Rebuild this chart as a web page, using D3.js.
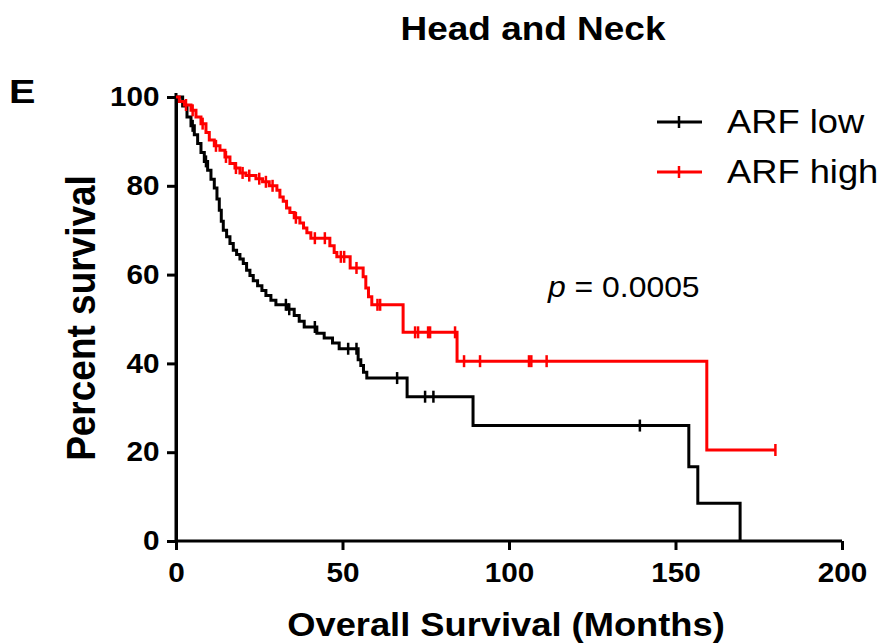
<!DOCTYPE html>
<html>
<head>
<meta charset="utf-8">
<script src="https://cdn.jsdelivr.net/npm/d3@7"></script>
<style>
  body { margin: 0; background: #fff; }
  text { font-family: "Liberation Sans", Arial, sans-serif; }
</style>
</head>
<body>
<svg id="km" width="883" height="644"></svg>
<script>
// Kaplan-Meier steps: time (months) and survival (%) after each drop
const lowTimes = [0, 2, 3.3, 4.5, 5.5, 6.5, 7.5, 8.5, 9.5, 10.5, 11.5, 12.3, 13, 13.6, 14.2, 15.2, 16.2, 17.2, 18.2, 19.2,
  20.2, 21.2, 22.2, 23.2, 24.5, 25.8, 27, 28.5, 30, 33.5, 35.5, 37, 38.5, 42.3, 44.5, 47, 49, 54.7, 55.5, 56.3,
  57.3, 69.4, 89.2, 154, 156.7, 169.4];
const lowSurv = [100, 98, 95.5, 93.5, 91.5, 89.5, 87.5, 85.5, 83.5, 81.5, 79.5, 77, 74.5, 72, 70, 68.5, 67, 65.5, 64.5, 63.5,
  62.5, 61, 59.8, 58.6, 57.5, 56.4, 55.3, 54.2, 53.2, 52.2, 50.8, 49.5, 48.2, 46.8, 45.7, 44.6, 43.3, 40.8, 39.5, 38,
  36.7, 32.5, 26, 16.7, 8.5, 0];
const lowCensor = [5, 9, 33, 34, 41.7, 51.7, 54.2, 66.4, 74.8, 77.3, 139.3];

const highTimes = [0, 1, 2.5, 4.5, 6, 7.5, 9, 10, 11.5, 13.2, 14.7, 16.2, 17.7, 19.2, 21, 24, 26, 28, 30.3, 31.2,
  32.2, 33.2, 34.2, 35.5, 37.2, 38.3, 39.3, 40.5, 46.2, 47.5, 48.3, 52.3, 56.2, 57, 57.8, 58.8, 68.2, 84.4, 159.4];
const highSurv = [100, 99, 98.2, 97, 95.5, 94, 92, 90.3, 89, 88, 86.5, 85, 84, 82.9, 82.3, 81.6, 80.9, 80, 79, 77.5,
  76.5, 75, 74, 72.8, 71.6, 70.5, 69.4, 68.2, 66.5, 65, 64, 61.5, 59.5, 57, 55, 53.2, 47, 40.5, 20.5];
const highCensor = [3, 5, 8, 12, 15, 18, 20, 22, 25, 27, 29, 36, 41.7, 44.7, 49.5, 50.5, 54.2, 60.5, 61.3,
  71.8, 72.7, 75.7, 76.3, 83.8, 86.5, 91.3, 106, 106.7, 111.3, 180];

const xTicks = [0, 50, 100, 150, 200];
const yTicks = [0, 20, 40, 60, 80, 100];
const groupNames = ["ARF low", "ARF high"];
const groupColors = ["#000000", "#ff0000"];

const svg = d3.select("#km");
const x = d3.scaleLinear().domain([0, 200]).range([176, 842]);
const y = d3.scaleLinear().domain([0, 100]).range([541, 97]);

// the source image is slightly stretched sideways, so text is widened a bit
const SX = 1.1;

// axes
const xAxis = svg.append("g")
  .attr("transform", `translate(0,${y(0)})`)
  .call(d3.axisBottom(x).tickValues(xTicks).tickSize(9).tickPadding(13).tickSizeOuter(0));
const yAxis = svg.append("g")
  .attr("transform", `translate(${x(0)},0)`)
  .call(d3.axisLeft(y).tickValues(yTicks).tickSize(9).tickPadding(6).tickSizeOuter(0));

[xAxis, yAxis].forEach(ax => {
  ax.select(".domain").attr("stroke", "#000").attr("stroke-width", 3);
  ax.selectAll(".tick line").attr("stroke", "#000").attr("stroke-width", 3);
  ax.selectAll(".tick text")
    .attr("fill", "#000")
    .attr("transform", `scale(${SX},1)`)
    .style("font-family", "'Liberation Sans', Arial, sans-serif")
    .style("font-weight", "bold")
    .style("font-size", "27px");
});
xAxis.select(".domain").attr("d", `M${x(0)},0H${x(200)}`);
svg.append("line")
  .attr("x1", x(0)).attr("x2", x(0))
  .attr("y1", y(100) - 4).attr("y2", y(0))
  .attr("stroke", "#000").attr("stroke-width", 3);

// curves
const line = d3.line()
  .x(d => x(d[0]))
  .y(d => y(d[1]))
  .curve(d3.curveStepAfter);

function survAt(times, surv, t) {
  let s = surv[0];
  for (let i = 0; i < times.length; i++) if (times[i] <= t) s = surv[i];
  return s;
}

const groups = [
  { times: lowTimes, surv: lowSurv, censor: lowCensor, end: 169.4 },
  { times: highTimes, surv: highSurv, censor: highCensor, end: 180 }
];

groups.forEach((g, gi) => {
  const pts = g.times.map((t, i) => [t, g.surv[i]]);
  const last = g.times[g.times.length - 1];
  if (g.end > last) pts.push([g.end, g.surv[g.surv.length - 1]]);
  svg.append("path")
    .datum(pts)
    .attr("d", line)
    .attr("fill", "none")
    .attr("stroke", groupColors[gi])
    .attr("stroke-width", 3);

  svg.selectAll(null)
    .data(g.censor)
    .enter().append("line")
      .attr("x1", d => x(d)).attr("x2", d => x(d))
      .attr("y1", d => y(survAt(g.times, g.surv, d)) - 6)
      .attr("y2", d => y(survAt(g.times, g.surv, d)) + 6)
      .attr("stroke", groupColors[gi])
      .attr("stroke-width", 2.5);
});

// legend
const legend = svg.append("g").attr("transform", "translate(657,122)");
groupNames.forEach((name, i) => {
  const row = legend.append("g").attr("transform", `translate(0,${i * 50})`);
  row.append("line").attr("x1", 0).attr("x2", 45).attr("y1", 0).attr("y2", 0)
    .attr("stroke", groupColors[i]).attr("stroke-width", 3);
  row.append("line").attr("x1", 22).attr("x2", 22).attr("y1", -6).attr("y2", 6)
    .attr("stroke", groupColors[i]).attr("stroke-width", 2.5);
  row.append("text").attr("transform", `translate(70,11) scale(${SX},1)`)
    .attr("font-size", "33px").attr("fill", "#000")
    .text(name);
});

// titles
svg.append("text")
  .attr("transform", `translate(533,40) scale(${SX + 0.02},1)`)
  .attr("text-anchor", "middle")
  .attr("font-size", "33px").attr("font-weight", "bold")
  .text("Head and Neck");

svg.append("text")
  .attr("transform", "translate(9,103) scale(1.2,1)")
  .attr("font-size", "33px").attr("font-weight", "bold")
  .text("E");

svg.append("text")
  .attr("transform", `translate(506,636) scale(${SX},1)`)
  .attr("text-anchor", "middle")
  .attr("font-size", "33px").attr("font-weight", "bold")
  .text("Overall Survival (Months)");

svg.append("text")
  .attr("transform", `translate(95,318) scale(${SX},1) rotate(-90)`)
  .attr("text-anchor", "middle")
  .attr("font-size", "37px").attr("font-weight", "bold")
  .text("Percent survival");

const pText = svg.append("text")
  .attr("transform", `translate(548,297) scale(${SX},1)`)
  .attr("font-size", "29px");
pText.append("tspan").attr("font-style", "italic").text("p");
pText.append("tspan").text(" = 0.0005");
</script>
</body>
</html>
